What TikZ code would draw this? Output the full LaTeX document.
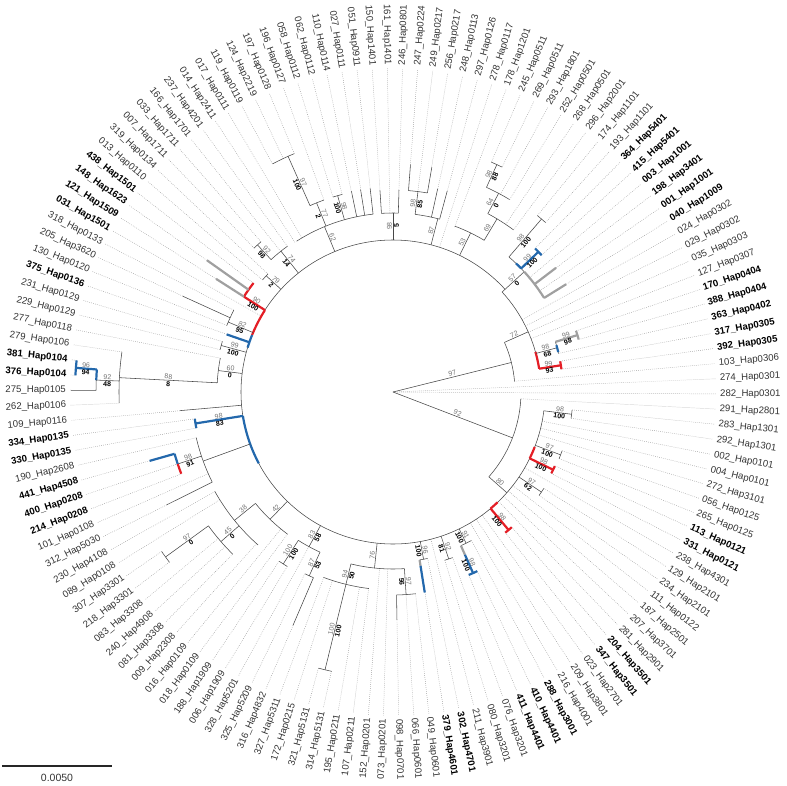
\documentclass[tikz,border=0pt]{standalone}
\usepackage{fontspec}
\setmainfont{Liberation Sans}
\definecolor{hred}{RGB}{228,30,38}
\definecolor{hblue}{RGB}{35,104,172}
\definecolor{hgray}{RGB}{160,160,160}
\newcommand\tarc[4][tree]{\draw[#1] (#2:#4pt) arc[start angle=#2, end angle=#3, radius=#4pt];}
\newcommand\tbr[4][tree]{\draw[#1] (#2:#3pt) -- (#2:#4pt);}
\newcommand\sv[4]{%
 \pgfmathsetmacro\svang{mod(#1+720,360)}%
 \pgfmathsetmacro\svrot{(\svang>90 && \svang<270) ? \svang-180 : \svang}%
 \node[supg, anchor=south, rotate=\svrot] at (#1:#2pt) {#3};%
 \node[supb, anchor=north, rotate=\svrot] at (#1:#2pt) {#4};}
\begin{document}
\begin{tikzpicture}[x=1pt,y=1pt,
  tree/.style={draw=black!72, line width=0.55pt},
  leader/.style={draw=black!40, line width=0.45pt, dash pattern=on 0.7pt off 1.3pt},
  hr/.style={draw=hred, line width=2.2pt},
  hb/.style={draw=hblue, line width=2.2pt},
  hg/.style={draw=hgray, line width=2.2pt},
  lab/.style={font=\fontsize{9.6}{10}\selectfont, inner sep=0pt, text=black!80},
  supg/.style={font=\fontsize{7}{7}\selectfont, text=black!55, inner sep=0.8pt},
  supb/.style={font=\fontsize{7}{7}\selectfont\bfseries, text=black, inner sep=0.8pt}]
\useasboundingbox (-393,-393) rectangle (394,392);
% ---------- leaves: index/number/haplotype/bold/tip radius ----------
\foreach \ii/\nn/\hh/\bb/\rt in {
1/161/1401/0/179, 2/150/1401/0/202, 3/051/0911/0/205, 4/027/0111/0/205, 5/110/0114/0/205,
6/062/0112/0/204, 7/058/0112/0/204, 8/196/0127/0/204, 9/197/0128/0/258, 10/124/2219/0/258,
11/119/0119/0/258, 12/017/0111/0/179, 13/014/2411/0/179, 14/237/4201/0/180, 15/166/1701/0/180,
16/033/1711/0/200, 17/007/1711/0/200, 18/319/0134/0/172, 19/013/0110/0/172, 20/438/1501/1/177,
21/148/1623/1/228, 22/121/1509/1/210, 23/031/1501/1/152, 24/318/0133/0/179, 25/205/3620/0/231,
26/130/0120/0/179, 27/375/0136/1/176, 28/231/0129/0/178, 29/229/0129/0/178, 30/277/0118/0/176,
31/279/0106/0/274, 32/381/0104/1/318, 33/376/0104/1/318, 34/275/0105/0/322, 35/262/0106/0/274,
36/109/0116/0/214, 37/334/0135/1/200, 38/330/0135/1/200, 39/190/2608/0/202, 40/441/4508/1/253,
41/400/0208/1/227, 42/214/0208/1/227, 43/101/0108/0/202, 44/312/5030/0/253, 45/230/4108/0/204,
46/089/0108/0/204, 47/307/3301/0/281, 48/218/3301/0/281, 49/083/3308/0/228, 50/240/4908/0/228,
51/081/3308/0/228, 52/009/2308/0/204, 53/016/0109/0/177, 54/018/0109/0/177, 55/188/1909/0/204,
56/006/1909/0/204, 57/328/5201/0/176, 58/325/5209/0/202, 59/316/4832/0/254, 60/327/5311/0/198,
61/172/0215/0/198, 62/321/5131/0/286, 63/314/5131/0/286, 64/195/0211/0/198, 65/107/0211/0/198,
66/152/0201/0/177, 67/073/0201/0/177, 68/098/0701/0/228, 69/066/0601/0/203, 70/049/0601/0/203,
71/379/4601/1/203, 72/302/4701/1/170, 73/211/3901/0/152, 74/080/3201/0/176, 75/076/3201/0/176,
76/411/4401/1/198, 77/410/4401/1/198, 78/288/3001/1/168, 79/216/4001/0/152, 80/209/3801/0/152,
81/023/2701/0/152, 82/347/3501/1/180, 83/204/3501/1/180, 84/281/2901/0/152, 85/207/3701/0/152,
86/187/2501/0/152, 87/111/0122/0/152, 88/234/2101/0/179, 89/129/2101/0/179, 90/238/4301/0/152,
91/331/0121/1/178, 92/113/0121/1/178, 93/265/0125/0/179, 94/056/0125/0/179, 95/272/3101/0/152,
96/004/0101/0/152, 97/002/0101/0/152, 98/292/1301/0/180, 99/283/1301/0/180, 100/291/2801/0/128,
101/282/0301/0/0, 102/274/0301/0/0, 103/103/0306/0/122, 104/392/0305/1/170, 105/317/0305/1/170,
106/363/0402/1/170, 107/388/0404/1/193, 108/170/0404/1/193, 109/127/0307/0/148, 110/035/0303/0/148,
111/029/0302/0/148, 112/024/0302/0/148, 113/040/1009/1/204, 114/001/1001/1/178, 115/198/3401/1/205,
116/003/1001/1/178, 117/415/5401/1/202, 118/364/5401/1/202, 119/193/1101/0/228, 120/174/1101/0/228,
121/296/2001/0/202, 122/268/0501/0/202, 123/252/0501/0/225, 124/293/1801/0/225, 125/269/0511/0/250,
126/245/0511/0/250, 127/178/1201/0/176, 128/278/0117/0/152, 129/297/0126/0/208, 130/248/0113/0/208,
131/256/0217/0/228, 132/249/0217/0/202, 133/247/0224/0/228, 134/246/0801/0/202}{
  \pgfmathsetmacro\ang{mod(91+(\ii-1)*2.6865672,360)}
  \draw[leader] (\ang:\rt pt) -- (\ang:324pt);
  \pgfmathtruncatemacro\lr{(\ang>90 && \ang<270) ? 1 : 0}
  \ifnum\bb=1 \def\ff{\bfseries\color{black}}\else\def\ff{}\fi
  \ifnum\lr=1
    \node[lab, anchor=east, rotate=\ang-180] (L\ii) at (\ang:327pt) {\ff\nn\_Hap\hh};
  \else
    \node[lab, anchor=west, rotate=\ang] (L\ii) at (\ang:327pt) {\ff\nn\_Hap\hh};
  \fi
}
% ---------- root and right side ----------
\tbr{14}{0}{122}
\tbr{-21}{0}{128}
\tarc{5.0}{24}{122}
\tarc{-41.5}{-3.1}{128}
\tbr{-41.5}{128}{152}
\tbr{24}{122}{148}
\tarc{9.05}{42.5}{148}
\tbr{42.5}{148}{178}
\tarc{42.5}{353}{152}
% 99/93 red
\tarc[hr]{9.05}{15.7}{148}
\tbr[hr]{9.05}{148}{170}
\tarc[hr]{7.7}{10.4}{170}
% 98/68
\tbr{15.1}{148}{170}
\tarc{13.1}{17.15}{170}
\tarc[hb]{13.6}{16}{170}
\tbr[hg]{17.15}{170}{193}
\tarc[hg]{15.8}{18.5}{193}
% 57/0
\tarc{42.5}{49.35}{178}
\tarc[hg]{31.9}{42.5}{178}
\tbr[hg]{31.9}{178}{204}
\tbr[hg]{37.3}{178}{205}
\tarc[hb]{43.95}{46.3}{178}
\tbr[hb]{43.95}{178}{202}
\tarc[hb]{42.6}{45.3}{202}
\tbr{49.35}{178}{228}
\tarc{48}{50.7}{228}
% 53 clade
\tbr{64}{152}{177}
\tarc{59}{69.5}{177}
\tbr{59}{177}{202}
\tarc{53.4}{62}{202}
\tbr{62}{202}{225}
\tarc{58.8}{65.45}{225}
\tbr{65.45}{225}{250}
\tarc{64.1}{66.8}{250}
% 87 clade
\tbr{75.5}{152}{179}
\tarc{74.9}{82.9}{179}
\tbr{74.9}{179}{208}
\tbr{77.6}{179}{208}
\tbr{82.9}{179}{202}
\tarc{80.2}{85.6}{202}
\tbr{80.2}{202}{228}
\tbr{85.6}{202}{228}
% 98/5
\tbr{90}{152}{179}
\tarc{88.3}{93.7}{179}
\tbr{88.3}{179}{202}
\tbr{93.7}{179}{202}
% 62 clade
\tbr{112.5}{152}{179}
\tarc{96.4}{122.6}{179}
\tbr{96.4}{179}{205}
\tbr{99.1}{179}{205}
\tbr{101.7}{179}{205}
\tbr{105.75}{179}{204}
\tarc{104.4}{107.1}{204}
\tbr{112}{179}{204}
\tarc{109.8}{114}{204}
\tbr{114}{204}{258}
\tarc{112.5}{117.8}{258}
% 74/14 and 79/2
\tbr{128.5}{152}{180}
\tarc{125.9}{132.65}{180}
\tbr{132.65}{180}{200}
\tarc{131.3}{134}{200}
\tbr{137.5}{152}{172}
\tarc{136.7}{139.3}{172}
% red 90/100
\tarc[hr]{147.4}{158}{152}
\tbr[hr]{147.4}{152}{177}
\tarc[hr]{142}{147.4}{177}
\tbr[hg]{144.7}{177}{228}
\tbr[hg]{147.4}{177}{210}
% 82/95
\tbr{157}{152}{179}
\tarc{152.8}{158.2}{179}
\tbr{155.5}{179}{231}
% blue 375
\tarc[hb]{158}{163}{152}
\tbr[hb]{160.9}{152}{176}
% 99/100
\tbr{164.85}{152}{178}
\tarc{163.5}{166.2}{178}
% 60/0, 88/8
\tbr{173}{152}{176}
\tarc{168.9}{177}{176}
\tbr{177}{176}{274}
\tarc{171.6}{182.3}{274}
\tbr{177.7}{274}{297}
\tarc{175.65}{179.7}{297}
\tarc[hb]{175.65}{177.7}{297}
\tbr[hb]{175.65}{297}{318}
\tarc[hb]{174.3}{177}{318}
\tbr{179.7}{297}{322}
% 109
\tbr{185}{152}{214}
% 98/83 blue
\tarc[hb]{189.05}{208}{152}
\tbr[hb]{189.05}{152}{200}
\tarc[hb]{187.7}{190.4}{200}
% 98/91 region
\tbr{200}{152}{202}
\tarc{193.1}{206.5}{202}
\tbr{198.5}{202}{227}
\tarc[hb]{195.8}{198.5}{227}
\tarc[hr]{198.5}{201.1}{227}
\tbr[hb]{195.8}{227}{253}
\tbr{206.5}{202}{253}
% 42 / 38 / 45 / 97
\tbr{226}{152}{177}
\tarc{219}{233.4}{177}
\tbr{219}{177}{204}
\tarc{209.2}{228.6}{204}
\tbr{221}{204}{228}
\tarc{215.95}{225.3}{228}
\tbr{215.95}{228}{281}
\tarc{214.6}{217.3}{281}
% bottom
\tbr{-118.5}{152}{176}
\tarc{-122.55}{-114.5}{176}
\tbr{-114.5}{176}{202}
\tarc{-115.8}{-113.2}{202}
\tbr{-113.2}{202}{254}
\tbr{-122.55}{176}{204}
\tarc{-123.9}{-121.2}{204}
\tbr{-96}{152}{177}
\tarc{-103.75}{-86.3}{177}
\tbr{-86.3}{177}{203}
\tarc{-89}{-83.6}{203}
\tbr{-89}{203}{228}
\tbr{-103.75}{177}{198}
\tarc{-110.5}{-97}{198}
\tbr{-103.75}{198}{286}
\tarc{-105.1}{-102.4}{286}
% lower right
\tbr{-79.65}{152}{170}
\tarc{-81}{-78.3}{170}
\tbr[hg]{-81}{170}{176}
\tbr[hb]{-81}{176}{203}
\tbr{-71.55}{152}{176}
\tarc{-72.9}{-70.2}{176}
\tbr{-64.2}{152}{168}
\tarc{-66.15}{-62.2}{168}
\tbr[hg]{-66.15}{168}{178}
\tbr[hb]{-66.15}{178}{198}
\tarc[hb]{-67.5}{-64.8}{198}
\tarc[hr]{-50.05}{-46.5}{152}
\tbr[hr]{-50.05}{152}{180}
\tarc[hr]{-51.4}{-48.7}{180}
\tbr{-34}{152}{179}
\tarc{-35.3}{-32.6}{179}
\tarc[hr]{-25.9}{-21.2}{152}
\tbr[hr]{-25.9}{152}{178}
\tarc[hr]{-27.2}{-24.6}{178}
\tbr{-20.55}{152}{179}
\tarc{-21.9}{-19.2}{179}
\tbr{-7.1}{152}{180}
\tarc{-8.4}{-5.8}{180}
% ---------- support values ----------
\sv{14}{62}{97}{}
\sv{-21}{68}{92}{}
\sv{24}{134}{72}{}
\sv{9.05}{158}{99}{93}
\sv{15.1}{159}{98}{68}
\sv{17.15}{182}{99}{98}
\sv{42.5}{165}{57}{0}
\sv{43.95}{190}{99}{100}
\sv{49.35}{200}{98}{100}
\sv{59}{189}{69}{}
\sv{62}{213}{64}{0}
\sv{65.45}{238}{98}{88}
\sv{64}{165}{53}{}
\sv{75.5}{166}{87}{}
\sv{82.9}{190}{98}{85}
\sv{90}{166}{98}{5}
\sv{112.5}{166}{62}{}
\sv{112}{191}{77}{2}
\sv{105.75}{192}{98}{100}
\sv{114}{228}{97}{100}
\sv{132.65}{190}{92}{98}
\sv{128.5}{167}{74}{14}
\sv{137.5}{162}{79}{2}
\sv{147.4}{164}{90}{100}
\sv{157}{165}{82}{95}
\sv{164.85}{165}{99}{100}
\sv{173}{164}{60}{0}
\sv{177}{225}{88}{8}
\sv{177.7}{286}{92}{48}
\sv{175.65}{308}{96}{94}
\sv{189.05}{176}{98}{83}
\sv{198.5}{215}{98}{91}
\sv{215.95}{252}{97}{0}
\sv{221}{216}{45}{0}
\sv{219}{190}{38}{}
\sv{226}{165}{42}{}
\sv{-122.55}{190}{100}{100}
\sv{-118.5}{164}{83}{58}
\sv{-114.5}{189}{87}{53}
\sv{-103.75}{188}{94}{50}
\sv{-103.75}{245}{100}{100}
\sv{-96}{165}{76}{}
\sv{-86.3}{190}{97}{56}
\sv{-79.65}{161}{96}{100}
\sv{-71.55}{164}{92}{81}
\sv{-64.2}{160}{91}{100}
\sv{-66.15}{188}{98}{100}
\sv{-50.05}{166}{98}{100}
\sv{-41.5}{140}{80}{}
\sv{-34}{165}{97}{62}
\sv{-25.9}{166}{98}{100}
\sv{-20.55}{166}{97}{100}
\sv{-7.1}{168}{98}{100}
% ---------- scale bar ----------
\coordinate (sbA) at (-391,-374);
\coordinate (sbB) at (-281,-374);
\draw[line width=1.3pt, black!85] (sbA) -- (sbB);
\node[font=\fontsize{10.5}{11}\selectfont, text=black!80] (sbT) at (-336,-386) {0.0050};
\end{tikzpicture}
\end{document}
